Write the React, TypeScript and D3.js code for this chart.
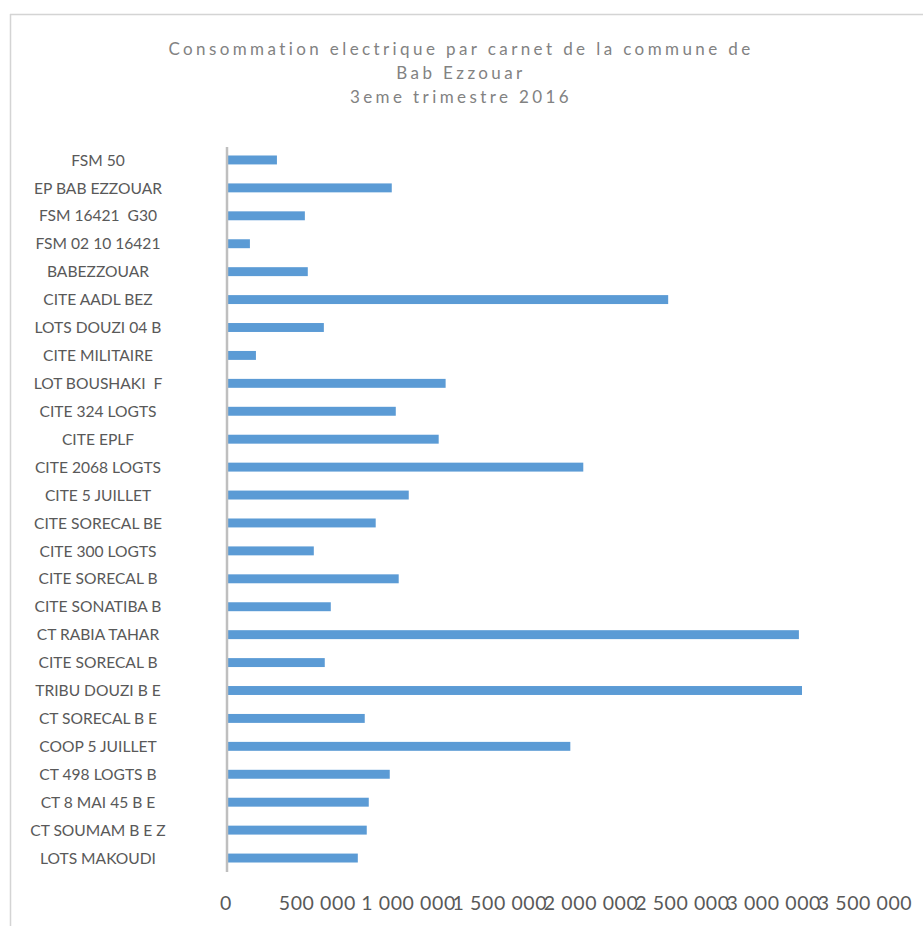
import React from "react";
import * as d3 from "d3";

const categories = [
  "FSM 50",
  "EP BAB EZZOUAR",
  "FSM 16421  G30",
  "FSM 02 10 16421",
  "BABEZZOUAR",
  "CITE AADL BEZ",
  "LOTS DOUZI 04 B",
  "CITE MILITAIRE",
  "LOT BOUSHAKI  F",
  "CITE 324 LOGTS",
  "CITE EPLF",
  "CITE 2068 LOGTS",
  "CITE 5 JUILLET",
  "CITE SORECAL BE",
  "CITE 300 LOGTS",
  "CITE SORECAL B",
  "CITE SONATIBA B",
  "CT RABIA TAHAR",
  "CITE SORECAL B",
  "TRIBU DOUZI B E",
  "CT SORECAL B E",
  "COOP 5 JUILLET",
  "CT 498 LOGTS B",
  "CT 8 MAI 45 B E",
  "CT SOUMAM B E Z",
  "LOTS MAKOUDI",
];

const consumption = [
  268000, 897000, 421000, 120000, 437000, 2411000, 525000, 153000, 1192000,
  919000, 1154000, 1946000, 990000, 809000, 470000, 935000, 563000, 3127000,
  530000, 3144000, 749000, 1875000, 886000, 771000, 760000, 711000,
];

const xTicks = [0, 500000, 1000000, 1500000, 2000000, 2500000, 3000000, 3500000];

const titleLines = [
  "Consommation electrique par carnet de la commune de",
  "Bab Ezzouar",
  "3eme trimestre 2016",
];

const W = 923;
const H = 926;
const FONT = "Lato, 'Open Sans', sans-serif";

export default function App() {
  const x = d3.scaleLinear().domain([0, 3500000]).range([228, 867]);
  const y = d3
    .scaleBand<number>()
    .domain(categories.map((_, i) => i))
    .range([146, 872])
    .paddingInner(0.68)
    .paddingOuter(0.34);
  const fmt = (v: number) => d3.format(",")(v).replace(/,/g, " ");

  return (
    <svg
      width={W}
      height={H}
      style={{ position: "absolute", left: 0, top: 0, background: "#fff" }}
      fontFamily={FONT}
    >
      <line x1={10} x2={W} y1={14.5} y2={14.5} stroke="#d4d4d4" strokeWidth={1.5} />
      <line x1={10.5} x2={10.5} y1={14} y2={H} stroke="#d4d4d4" strokeWidth={1.5} />
      {titleLines.map((t, i) => (
        <text
          key={i}
          x={461}
          y={55 + i * 24}
          textAnchor="middle"
          fontSize={17}
          letterSpacing={3.4}
          fill="#828282"
        >
          {t}
        </text>
      ))}
      {consumption.map((v, i) => (
        <rect
          key={i}
          x={x(0)}
          y={y(i)!}
          width={x(v) - x(0)}
          height={y.bandwidth()}
          fill="#5b9bd5"
        />
      ))}
      <line x1={x(0) - 1} x2={x(0) - 1} y1={147} y2={872} stroke="#bfbfbf" strokeWidth={2.5} />
      {categories.map((c, i) => (
        <text
          key={i}
          x={98}
          y={y(i)! + y.bandwidth() / 2}
          dy="0.36em"
          textAnchor="middle"
          fontSize={15.6}
          fill="#595959"
          style={{ whiteSpace: "pre" }}
        >
          {c}
        </text>
      ))}
      {xTicks.map((t) => (
        <text
          key={t}
          x={x(t) - 2}
          y={903}
          dy="0.36em"
          textAnchor="middle"
          fontSize={19.5}
          letterSpacing={0.6}
          fill="#595959"
        >
          {fmt(t)}
        </text>
      ))}
    </svg>
  );
}
